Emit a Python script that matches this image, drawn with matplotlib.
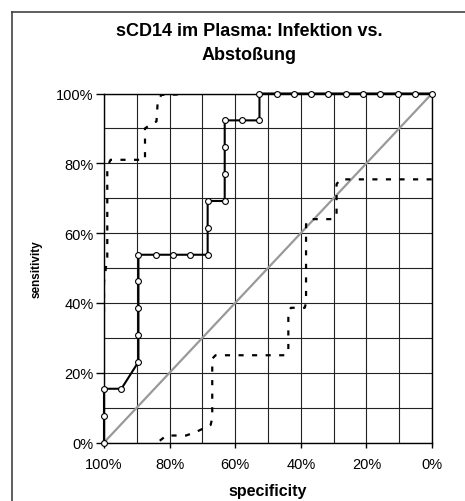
import matplotlib
matplotlib.use('Agg')
import matplotlib.pyplot as plt
from matplotlib.lines import Line2D
from matplotlib.ticker import FuncFormatter, MultipleLocator

plt.rcParams['font.family'] = ['Liberation Sans', 'DejaVu Sans']

title = 'sCD14 im Plasma: Infektion vs.\nAbstoßung'
x_label = 'specificity'
y_label = 'sensitivity'

# solid curve with open markers
spec_a = [100, 100, 100, 94.7, 89.5, 89.5, 89.5, 89.5, 89.5, 84.2, 78.9, 73.7,
          68.4, 68.4, 68.4, 63.2, 63.2, 63.2, 63.2, 57.9, 52.6, 52.6, 47.4, 42.1,
          36.8, 31.6, 26.3, 21.1, 15.8, 10.5, 5.3, 0]
sens_a = [0, 7.7, 15.4, 15.4, 23.1, 30.8, 38.5, 46.2, 53.8, 53.8, 53.8, 53.8,
          53.8, 61.5, 69.2, 69.2, 76.9, 84.6, 92.3, 92.3, 92.3, 100, 100, 100,
          100, 100, 100, 100, 100, 100, 100, 100]

# upper dashed curve
spec_b = [100, 100, 99, 99, 98, 87.5, 87.5, 86, 84, 83.6, 82.5, 78, 75, 0]
sens_b = [37.5, 46, 53, 79, 81, 81, 90, 91, 92, 98, 99.6, 99.7, 100, 100]

# lower dashed curve
spec_c = [83, 81, 75, 72, 67.5, 67, 67, 66, 44.5, 43.8, 43.8, 43, 38.8, 38.4,
          38.4, 37.5, 30, 29.1, 29.1, 28, 0]
sens_c = [0.5, 2, 2, 3, 5, 7, 24, 25, 25, 26.5, 37.5, 38.6, 38.6, 40,
          62.5, 64, 64, 65.5, 74, 75.4, 75.4]

# reference diagonal
spec_ref = [100, 0]
sens_ref = [0, 100]

fig = plt.figure(figsize=(4.65, 5.02), dpi=100)
ax = fig.add_axes([104 / 465, 1 - 443.5 / 502, 328 / 465, 349 / 502])

ax.plot(spec_ref, sens_ref, color='#999999', lw=1.6, zorder=2)
dash = (0, (2.3, 3.8))
ax.plot(spec_c, sens_c, color='black', lw=1.6, ls=dash, dash_capstyle='butt', zorder=3)
ax.plot(spec_b, sens_b, color='black', lw=1.6, ls=dash, dash_capstyle='butt', zorder=3)
ax.plot(spec_a, sens_a, color='black', lw=1.5, marker='o', ms=4.2,
        mfc='white', mec='black', mew=0.8, zorder=4, clip_on=False)

ax.set_xlim(100, 0)
ax.set_ylim(0, 100)
ax.xaxis.set_major_locator(MultipleLocator(20))
ax.yaxis.set_major_locator(MultipleLocator(20))
ax.xaxis.set_minor_locator(MultipleLocator(10))
ax.yaxis.set_minor_locator(MultipleLocator(10))
pct = FuncFormatter(lambda v, p: f'{v:.0f}%')
ax.xaxis.set_major_formatter(pct)
ax.yaxis.set_major_formatter(pct)
ax.grid(True, which='both', color='#222222', lw=0.8)
ax.set_axisbelow(True)

ax.tick_params(axis='x', which='major', direction='out', length=3.5, width=1,
               pad=7, labelsize=10.5)
ax.tick_params(axis='y', which='major', direction='out', length=6, width=1,
               pad=1.5, labelsize=10.5)
ax.tick_params(which='minor', length=0)
for s in ax.spines.values():
    s.set_linewidth(1.0)
    s.set_color('black')

ax.set_xlabel(x_label, fontsize=11.5, fontweight='bold', va='top')
ax.xaxis.set_label_coords(0.5, (443.5 - 484) / 349)
ax.set_ylabel(y_label, fontsize=8.5, fontweight='bold')
ax.yaxis.set_label_coords((43 - 104) / 328, 0.5)

fig.text(249 / 465, 1 - 23.5 / 502, title, ha='center', va='top',
         fontsize=13, fontweight='bold', linespacing=1.5)

# chart area frame (cut off at right and bottom)
fig.add_artist(Line2D([12 / 465, 12 / 465], [0, 1 - 12.7 / 502],
                      transform=fig.transFigure, color='#333333', lw=1.1))
fig.add_artist(Line2D([12 / 465, 1], [1 - 12.7 / 502, 1 - 12.7 / 502],
                      transform=fig.transFigure, color='#333333', lw=1.1))

fig.savefig('out.png', dpi=100)
